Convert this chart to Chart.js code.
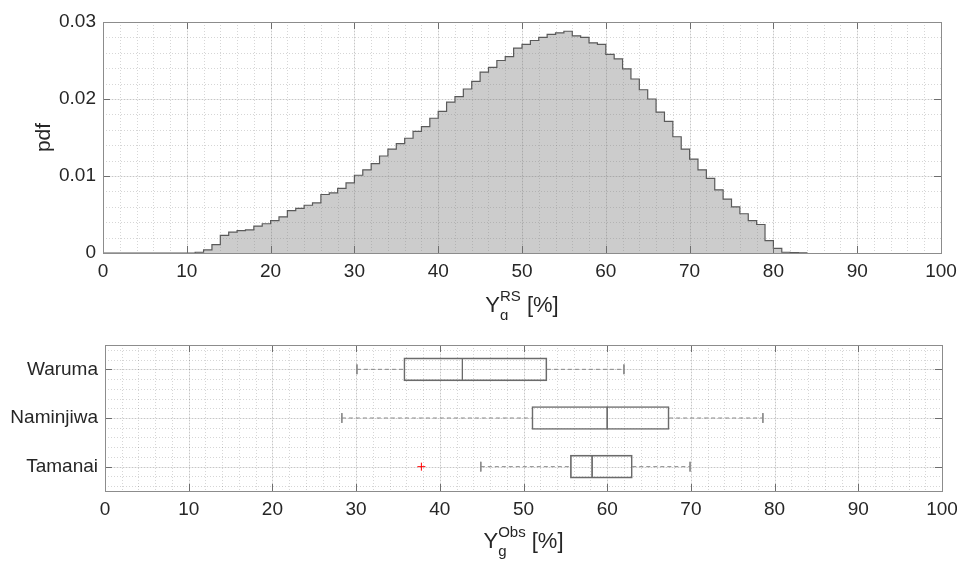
<!DOCTYPE html>
<html>
<head>
<meta charset="utf-8">
<script src="https://cdn.jsdelivr.net/npm/chart.js@4"></script>
<style>
  body { margin: 0; background: #fff; }
  #wrap { position: relative; width: 957px; height: 566px; }
  canvas { position: absolute; left: 0; }
</style>
</head>
<body>
<div id="wrap">
  <canvas id="pdfChart" width="957" height="320" style="top:0"></canvas>
  <canvas id="boxChart" width="957" height="246" style="top:320px"></canvas>
</div>
<script>
// pdf of Y_g^RS, one value per 1 % bin starting at 0
const pdfValues = [
  0, 0, 0, 0, 0, 0, 0, 0, 0, 0,
  0, 0.0001, 0.0004, 0.0011, 0.0023, 0.0027, 0.0029, 0.0030, 0.0035, 0.0038,
  0.0042, 0.0047, 0.0055, 0.0058, 0.0062, 0.0065, 0.0076, 0.0078, 0.0084, 0.0091,
  0.0101, 0.0108, 0.0116, 0.0126, 0.0135, 0.0142, 0.0149, 0.0158, 0.0164, 0.0175,
  0.0184, 0.0196, 0.0203, 0.0213, 0.0223, 0.0235, 0.0241, 0.0250, 0.0255, 0.0266,
  0.0271, 0.0276, 0.0280, 0.0284, 0.0286, 0.0288, 0.0282, 0.0280, 0.0273, 0.0271,
  0.0258, 0.0252, 0.0239, 0.0226, 0.0212, 0.0200, 0.0183, 0.0171, 0.0151, 0.0135,
  0.0122, 0.0108, 0.0097, 0.0082, 0.0070, 0.0060, 0.0051, 0.0042, 0.0037, 0.0016,
  0.0006, 0.0001, 0.00004, 0.00001
];

// observed Y_g per site (box plot stats)
const sites = ["Waruma", "Naminjiwa", "Tamanai"];
const whiskerLow = [30.1, 28.3, 44.9];
const q1 = [35.7, 51.0, 55.6];
const median = [42.7, 60.0, 58.2];
const q3 = [52.8, 67.4, 63.0];
const whiskerHigh = [62.0, 78.6, 69.9];
const outliers = [[], [], [37.8]];

const TEXT = "#262626";
const FONT = "'Liberation Sans', Arial, Helvetica, sans-serif";
const BOX_HALF = 0.23;
const CAP_HALF = 0.1;

function range(from, to, step) {
  const out = [];
  for (let k = 0; from + k * step <= to + 1e-9; k++) out.push(+(from + k * step).toFixed(6));
  return out;
}

// keep the plot box where it is, labels may hang over the edge
function noLabelPadding(s) {
  s.paddingLeft = 0;
  s.paddingRight = 0;
  s.paddingTop = 0;
  s.paddingBottom = 0;
}

// MATLAB-ish axes: dotted minor grid, light major grid, box frame, inward ticks
const matlabAxes = {
  id: "matlabAxes",
  beforeDatasetsDraw(chart, args, o) {
    const { ctx, chartArea: a, scales: { x, y } } = chart;
    ctx.save();
    ctx.lineWidth = 1;
    function vline(v) { const p = Math.round(x.getPixelForValue(v)) + 0.5; ctx.beginPath(); ctx.moveTo(p, a.top); ctx.lineTo(p, a.bottom); ctx.stroke(); }
    function hline(v) { const p = Math.round(y.getPixelForValue(v)) + 0.5; ctx.beginPath(); ctx.moveTo(a.left, p); ctx.lineTo(a.right, p); ctx.stroke(); }
    ctx.strokeStyle = "rgba(0,0,0,0.16)";
    ctx.setLineDash([1, 2]);
    o.xMinor.forEach(vline);
    o.yMinor.forEach(hline);
    ctx.setLineDash([]);
    ctx.strokeStyle = "rgba(0,0,0,0.08)";
    o.xMajor.forEach(vline);
    o.yMajor.forEach(hline);
    ctx.restore();
  },
  afterDatasetsDraw(chart, args, o) {
    const { ctx, chartArea: a, scales: { x, y } } = chart;
    ctx.save();
    ctx.lineWidth = 1;
    ctx.strokeStyle = "#6e6e6e";
    const t = 7;
    o.xMajor.forEach(v => {
      const p = Math.round(x.getPixelForValue(v)) + 0.5;
      ctx.beginPath();
      ctx.moveTo(p, a.bottom); ctx.lineTo(p, a.bottom - t);
      ctx.moveTo(p, a.top); ctx.lineTo(p, a.top + t);
      ctx.stroke();
    });
    o.yMajor.forEach(v => {
      const p = Math.round(y.getPixelForValue(v)) + 0.5;
      ctx.beginPath();
      ctx.moveTo(a.left, p); ctx.lineTo(a.left + t, p);
      ctx.moveTo(a.right, p); ctx.lineTo(a.right - t, p);
      ctx.stroke();
    });
    ctx.strokeStyle = "#8c8c8c";
    ctx.strokeRect(Math.round(a.left) + 0.5, Math.round(a.top) + 0.5,
      Math.round(a.right - a.left), Math.round(a.bottom - a.top));
    ctx.restore();
  },
  afterDraw(chart, args, o) {
    const { ctx, chartArea: a } = chart;
    ctx.save();
    ctx.fillStyle = TEXT;
    ctx.textBaseline = "alphabetic";
    const big = "22px " + FONT, small = "15px " + FONT;
    const tl = o.xTitle;
    ctx.font = big;
    const wY = ctx.measureText(tl.base).width;
    const wRest = ctx.measureText(tl.rest).width;
    ctx.font = small;
    const wSup = ctx.measureText(tl.sup).width;
    const wSub = ctx.measureText(tl.sub).width;
    const total = wY + Math.max(wSup, wSub) + wRest;
    const sx = (a.left + a.right) / 2 - total / 2;
    const b = tl.baseline;
    ctx.textAlign = "left";
    ctx.font = big;
    ctx.fillText(tl.base, sx, b);
    ctx.font = small;
    ctx.fillText(tl.sup, sx + wY, b - 11);
    ctx.fillText(tl.sub, sx + wY, b + 8);
    ctx.font = big;
    ctx.fillText(tl.rest, sx + wY + Math.max(wSup, wSub), b);
    if (o.yTitle) {
      ctx.translate(o.yTitle.x, (a.top + a.bottom) / 2);
      ctx.rotate(-Math.PI / 2);
      ctx.textAlign = "center";
      ctx.textBaseline = "middle";
      ctx.font = "21px " + FONT;
      ctx.fillText(o.yTitle.text, 0, 0);
    }
    ctx.restore();
  }
};

// ---------- top: histogram ----------
const pdfPoints = pdfValues.map((v, i) => ({ x: i, y: v }));
pdfPoints.push({ x: pdfValues.length, y: 0 });

new Chart(document.getElementById("pdfChart"), {
  type: "scatter",
  data: {
    datasets: [{
      type: "line",
      data: pdfPoints,
      stepped: "before",
      fill: "origin",
      backgroundColor: "rgba(120,120,120,0.38)",
      borderColor: "#5a5a5a",
      borderWidth: 1.2,
      pointRadius: 0
    }]
  },
  options: {
    responsive: false,
    animation: false,
    events: [],
    layout: { padding: { top: 22, right: 16, left: 0, bottom: 0 } },
    scales: {
      x: {
        type: "linear", min: 0, max: 100, offset: false,
        afterFit: s => { s.height = 67; noLabelPadding(s); },
        grid: { display: false, drawTicks: false },
        border: { display: false },
        ticks: { stepSize: 10, padding: 7, color: TEXT, font: { size: 19, family: FONT } }
      },
      y: {
        type: "linear", min: 0, max: 0.03, offset: false,
        afterFit: s => { s.width = 103; noLabelPadding(s); },
        grid: { display: false, drawTicks: false },
        border: { display: false },
        ticks: {
          stepSize: 0.01, padding: 7, color: TEXT, font: { size: 19, family: FONT },
          callback: v => (v === 0 ? "0" : v.toFixed(2))
        }
      }
    },
    plugins: {
      legend: { display: false },
      tooltip: { enabled: false },
      matlabAxes: {
        xMinor: range(0, 100, 2), xMajor: range(0, 100, 10),
        yMinor: range(0, 0.03, 0.002), yMajor: range(0, 0.03, 0.01),
        xTitle: { base: "Y", sup: "RS", sub: "g", rest: " [%]", baseline: 312 },
        yTitle: { text: "pdf", x: 44 }
      }
    }
  },
  plugins: [matlabAxes]
});

// ---------- bottom: box plots ----------
const boxColor = "#6b6b6b";
const whiskerColor = "#8a8a8a";
const boxDatasets = [{
  type: "bar",
  indexAxis: "y",
  data: sites.map((s, i) => ({ y: i + 1, x: [q1[i], q3[i]] })),
  backgroundColor: "rgba(0,0,0,0)",
  borderColor: boxColor,
  borderWidth: 1,
  borderSkipped: false,
  barThickness: 23,
  grouped: false
}];

function seg(points, color, dash) {
  return {
    type: "line", data: points, borderColor: color, borderWidth: 1,
    borderDash: dash || [], pointRadius: 0, fill: false
  };
}

sites.forEach((s, i) => {
  const c = i + 1;
  boxDatasets.push(seg([{ x: median[i], y: c - BOX_HALF }, { x: median[i], y: c + BOX_HALF }], boxColor));
  boxDatasets.push(seg([{ x: whiskerLow[i], y: c }, { x: q1[i], y: c }], whiskerColor, [4, 3]));
  boxDatasets.push(seg([{ x: q3[i], y: c }, { x: whiskerHigh[i], y: c }], whiskerColor, [4, 3]));
  boxDatasets.push(seg([{ x: whiskerLow[i], y: c - CAP_HALF }, { x: whiskerLow[i], y: c + CAP_HALF }], whiskerColor));
  boxDatasets.push(seg([{ x: whiskerHigh[i], y: c - CAP_HALF }, { x: whiskerHigh[i], y: c + CAP_HALF }], whiskerColor));
});

boxDatasets.push({
  type: "scatter",
  data: outliers.flatMap((list, i) => list.map(v => ({ x: v, y: i + 1 }))),
  pointStyle: "cross",
  pointRadius: 4,
  borderColor: "#ff0000",
  backgroundColor: "#ff0000",
  borderWidth: 1
});

new Chart(document.getElementById("boxChart"), {
  type: "scatter",
  data: { datasets: boxDatasets },
  options: {
    responsive: false,
    animation: false,
    events: [],
    layout: { padding: { top: 25, right: 15, left: 0, bottom: 0 } },
    scales: {
      x: {
        type: "linear", min: 0, max: 100, offset: false,
        afterFit: s => { s.height = 75; noLabelPadding(s); },
        grid: { display: false, drawTicks: false, offset: false },
        border: { display: false },
        ticks: { stepSize: 10, padding: 7, color: TEXT, font: { size: 19, family: FONT } }
      },
      y: {
        type: "linear", min: 0.5, max: 3.5, reverse: true, offset: false,
        afterFit: s => { s.width = 105; noLabelPadding(s); },
        afterBuildTicks: s => { s.ticks = sites.map((n, i) => ({ value: i + 1 })); },
        grid: { display: false, drawTicks: false, offset: false },
        border: { display: false },
        ticks: {
          padding: 7, color: TEXT, font: { size: 19, family: FONT },
          callback: v => sites[Math.round(v) - 1]
        }
      }
    },
    plugins: {
      legend: { display: false },
      tooltip: { enabled: false },
      matlabAxes: {
        xMinor: range(0, 100, 2), xMajor: range(0, 100, 10),
        yMinor: range(0.6, 3.4, 0.2), yMajor: [1, 2, 3],
        xTitle: { base: "Y", sup: "Obs", sub: "g", rest: " [%]", baseline: 228 }
      }
    }
  },
  plugins: [matlabAxes]
});
</script>
</body>
</html>
